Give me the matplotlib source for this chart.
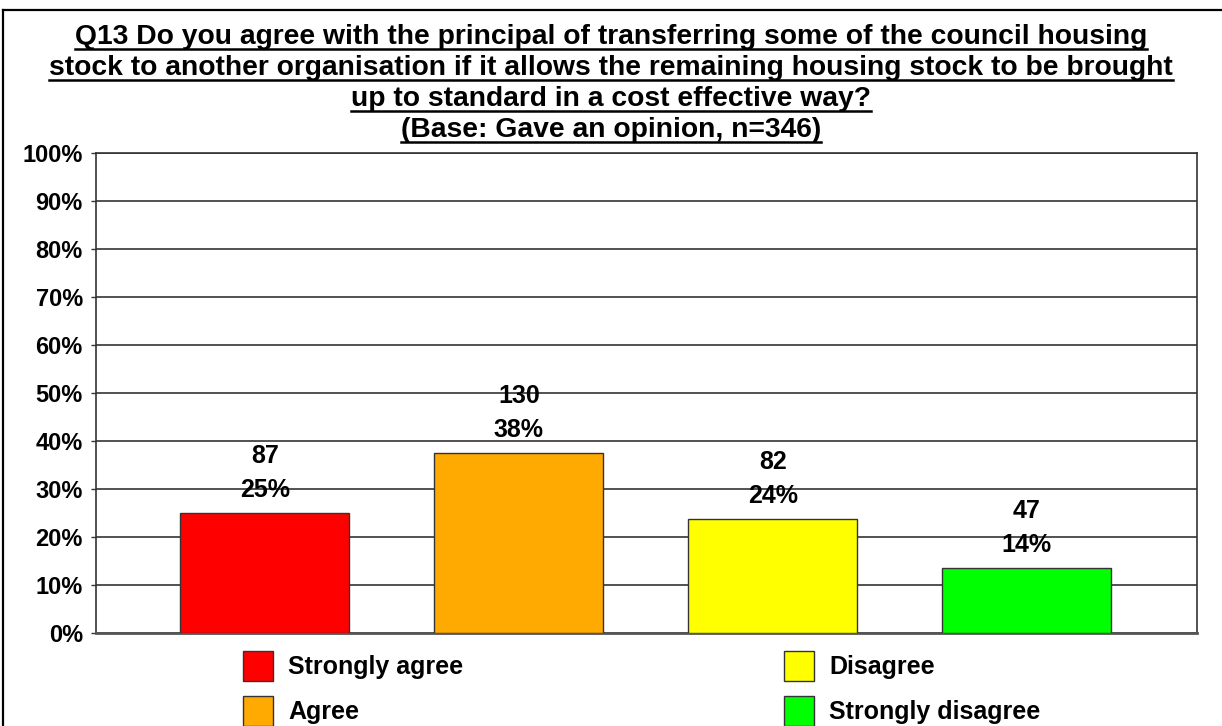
import numpy as np
import matplotlib.pyplot as plt
from matplotlib.patches import Patch
from matplotlib.lines import Line2D

# donnees
categories = ["Strongly agree", "Agree", "Disagree", "Strongly disagree"]
counts = [87, 130, 82, 47]
percents = [25.1, 37.6, 23.7, 13.6]
colors = ["#ff0000", "#ffaa00", "#ffff00", "#00ff00"]
title_lines = [
    "Q13 Do you agree with the principal of transferring some of the council housing",
    "stock to another organisation if it allows the remaining housing stock to be brought",
    "up to standard in a cost effective way?",
    "(Base: Gave an opinion, n=346)",
]
yticks = np.arange(0, 101, 10)

W, H = 1222, 726
plt.rcParams['font.family'] = ['Liberation Sans', 'DejaVu Sans']
fig = plt.figure(figsize=(W / 100, H / 100), dpi=100)

ax = fig.add_axes([96 / W, 1 - 633 / H, 1101 / W, 480 / H])
x = np.arange(len(categories))
ax.bar(x, percents, width=0.665, color=colors, edgecolor="#333333", linewidth=1, zorder=3)
ax.set_xlim(-0.665, 3.67)
ax.set_ylim(0, 100)
ax.set_yticks(yticks)
ax.set_yticklabels([f"{v}%" for v in yticks], fontsize=17, fontweight="bold")
ax.set_xticks([])
ax.grid(axis="y", color="#333333", linewidth=1.2, zorder=0)
ax.tick_params(axis="y", length=3.5, width=1, color="#333333", pad=6)
for s in ["left", "right", "top"]:
    ax.spines[s].set_color("#333333")
    ax.spines[s].set_linewidth(1.2)
ax.spines["bottom"].set_color("#555555")
ax.spines["bottom"].set_linewidth(2)

# etiquettes : effectif et pourcentage
for xi, c, p in zip(x, counts, percents):
    ax.annotate(f"{round(p)}%", (xi, p), xytext=(0, 23 * 0.72), textcoords="offset points",
                ha="center", va="center", fontsize=18, fontweight="bold", zorder=4)
    ax.annotate(f"{c}", (xi, p), xytext=(0, 57 * 0.72), textcoords="offset points",
                ha="center", va="center", fontsize=18, fontweight="bold", zorder=4)

# titre souligne
fig.canvas.draw()
renderer = fig.canvas.get_renderer()
baselines = [44, 75, 106, 137]
for line, b in zip(title_lines, baselines):
    t = fig.text(0.5, 1 - b / H, line, ha="center", va="baseline",
                 fontsize=20.3, fontweight="bold")
    bb = t.get_window_extent(renderer)
    yl = 1 - (b + 5) / H
    fig.add_artist(Line2D([bb.x0 / W, bb.x1 / W], [yl, yl], color="black", linewidth=1.8))

# legende
handles = [Patch(facecolor=c, edgecolor="#333333", linewidth=1) for c in colors]
kw = dict(frameon=False, handlelength=1.2, handleheight=1.45,
          handletextpad=0.6, labelspacing=0.62, borderpad=0, borderaxespad=0,
          loc="upper left", prop={"weight": "bold", "size": 18})
fig.legend(handles[:2], categories[:2], bbox_to_anchor=(243 / W, 1 - 651 / H), **kw)
fig.legend(handles[2:], categories[2:], bbox_to_anchor=(784 / W, 1 - 651 / H), **kw)

# cadre
fig.add_artist(Line2D([3 / W, 3 / W], [0, 1 - 10 / H], color="black", linewidth=1.6))
fig.add_artist(Line2D([3 / W, 1], [1 - 10 / H, 1 - 10 / H], color="black", linewidth=1.6))

fig.savefig("out.png", dpi=100)
